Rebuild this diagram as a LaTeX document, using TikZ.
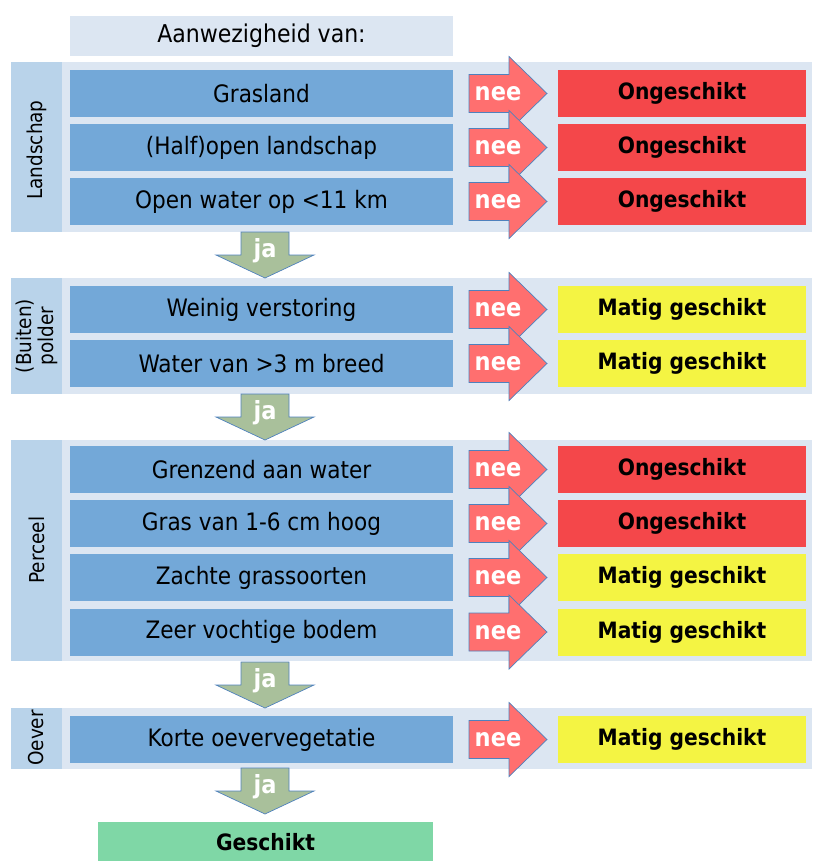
\documentclass[tikz,border=0pt]{standalone}
\usepackage{fontspec}
\setmainfont{DejaVu Sans Condensed}
\definecolor{bandc}{HTML}{DCE6F2}
\definecolor{labc}{HTML}{B9D3EA}
\definecolor{itemc}{HTML}{73A8D8}
\definecolor{redc}{HTML}{F4474A}
\definecolor{yelc}{HTML}{F4F443}
\definecolor{neec}{HTML}{FF6F6F}
\definecolor{edgec}{HTML}{4F81BD}
\definecolor{jac}{HTML}{A9C09B}
\definecolor{goodc}{HTML}{7FD7A6}
\tikzset{
  itembox/.style={fill=itemc,minimum width=383pt,minimum height=47pt,inner sep=0pt,font=\fontsize{24}{28}\selectfont},
  badbox/.style={fill=redc,minimum width=248pt,minimum height=47pt,inner sep=0pt,font=\fontsize{22.5}{26}\selectfont\bfseries},
  midbox/.style={fill=yelc,minimum width=248pt,minimum height=47pt,inner sep=0pt,font=\fontsize{22.5}{26}\selectfont\bfseries},
  labtext/.style={rotate=90,align=center,font=\fontsize{20.5}{22}\selectfont,inner sep=0pt},
  arrowtext/.style={text=white,font=\fontsize{25}{28}\selectfont\bfseries,inner sep=0pt},
  nee/.pic={
    \path[fill=neec,draw=edgec,line width=0.7pt] (0,-19) -- (40,-19) -- (40,-37) -- (78,0) -- (40,37) -- (40,19) -- (0,19) -- cycle;
    \node[arrowtext] (-t) at (29,0.5) {nee};
  },
  ja/.pic={
    \path[fill=jac,draw=edgec,line width=0.7pt] (-24,0) -- (24,0) -- (24,23) -- (49,23) -- (0,46) -- (-49,23) -- (-24,23) -- cycle;
    \node[arrowtext] (-t) at (0,19) {ja};
  }
}
\newcommand\mkrow[5]{%
  \node[itembox] (i#1) at (261.5,#2) {#3};
  \node[#4] (r#1) at (682,#2) {#5};
}
\begin{document}
\begin{tikzpicture}[x=1pt,y=-1pt]
\useasboundingbox (0,0) rectangle (812,861);
% header
\node[fill=bandc,minimum width=383pt,minimum height=40pt,inner sep=0pt,font=\fontsize{24.5}{28}\selectfont] (head) at (261.5,36) {Aanwezigheid van:};
% bands
\fill[bandc] (62,62) rectangle (812,232);
\fill[labc] (11,62) rectangle (62,232);
\node[labtext] (L1) at (36.5,150) {Landschap};
\fill[bandc] (62,278) rectangle (812,394);
\fill[labc] (11,278) rectangle (62,394);
\node[labtext] (L2) at (37,336) {(Buiten)\\polder};
\fill[bandc] (62,440) rectangle (812,661);
\fill[labc] (11,440) rectangle (62,661);
\node[labtext] (L3) at (36.5,550) {Perceel};
\fill[bandc] (62,708) rectangle (812,769);
\fill[labc] (11,708) rectangle (62,769);
\node[labtext] (L4) at (36.5,738) {Oever};
% rows
\mkrow{1}{93.5}{Grasland}{badbox}{Ongeschikt}
\mkrow{2}{147.5}{(Half)open landschap}{badbox}{Ongeschikt}
\mkrow{3}{201.5}{Open water op <11 km}{badbox}{Ongeschikt}
\mkrow{4}{309.5}{Weinig verstoring}{midbox}{Matig geschikt}
\mkrow{5}{363.5}{Water van >3 m breed}{midbox}{Matig geschikt}
\mkrow{6}{469.5}{Grenzend aan water}{badbox}{Ongeschikt}
\mkrow{7}{523.5}{Gras van 1-6 cm hoog}{badbox}{Ongeschikt}
\mkrow{8}{577.5}{Zachte grassoorten}{midbox}{Matig geschikt}
\mkrow{9}{632}{Zeer vochtige bodem}{midbox}{Matig geschikt}
\mkrow{10}{739.5}{Korte oevervegetatie}{midbox}{Matig geschikt}
% nee arrows
\foreach \n/\y in {1/93.5,2/147.5,3/201.5,4/309.5,5/363.5,6/469.5,7/523.5,8/577.5,9/632,10/739.5}
  \pic (n\n) at (469,\y) {nee};
% ja arrows
\pic (j1) at (265,232) {ja};
\pic (j2) at (265,394) {ja};
\pic (j3) at (265,662) {ja};
\pic (j4) at (265,768) {ja};
% final
\node[fill=goodc,minimum width=335pt,minimum height=40pt,inner sep=0pt,font=\fontsize{22.5}{26}\selectfont\bfseries] (good) at (265.5,842) {Geschikt};
\end{tikzpicture}
\end{document}
